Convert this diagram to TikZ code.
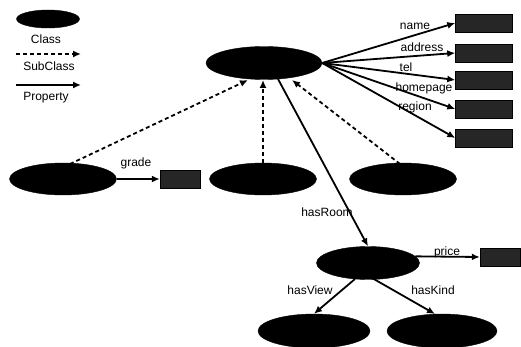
\documentclass[tikz,border=0pt]{standalone}
\usepackage{fontspec}
\setmainfont{Liberation Sans}
\usetikzlibrary{shapes.geometric,arrows.meta}
\begin{document}
\begin{tikzpicture}[x=1pt,y=-1pt,
  cls/.style={ellipse,fill=black,draw=black,inner sep=0pt,minimum width=#1,minimum height=33pt},
  cls/.default=110pt,
  lit/.style={rectangle,fill=black!85,draw=black,inner sep=0pt,minimum width=#1,minimum height=18pt},
  lit/.default=57pt,
  lbl/.style={font=\fontsize{12}{13}\selectfont,inner sep=0pt},
  prop/.style={line width=1.8pt,-{Latex[length=8pt,width=7pt]}},
  sub/.style={line width=1.8pt,dash pattern=on 4pt off 3pt,-{Latex[length=8pt,width=7pt]}}
]
\useasboundingbox[fill=white] (0,0) rectangle (521,347);
% legend
\node[cls=63pt,minimum height=18pt] (lc) at (48,19) {};
\node[lbl] (lclass) at (46,39) {Class};
\coordinate (ls1) at (16,54);
\coordinate (ls2) at (81,54);
\draw[sub] (ls1) -- (ls2);
\node[lbl] (lsub) at (49,66) {SubClass};
\coordinate (lp1) at (16,85);
\coordinate (lp2) at (81,85);
\draw[prop] (lp1) -- (lp2);
\node[lbl] (lprop) at (46,98) {Property};
% classes
\node[cls=116pt] (top) at (264,63) {};
\node[cls=107pt,minimum height=32pt] (left) at (63,179) {};
\node[cls=107pt,minimum height=32pt] (mid) at (263,179) {};
\node[cls=107pt,minimum height=32pt] (right) at (403,179) {};
\node[cls=103pt] (room) at (368,263) {};
\node[cls=112pt,minimum height=34pt] (view) at (314,331) {};
\node[cls=110pt,minimum height=34pt] (kind) at (442,331) {};
% literals
\node[lit] (bname) at (484,23) {};
\node[lit] (baddr) at (484,53) {};
\node[lit] (btel) at (484,80) {};
\node[lit] (bhome) at (484,109) {};
\node[lit] (bregion) at (484,138) {};
\node[lit=40pt] (bgrade) at (180,179) {};
\node[lit=40pt] (bprice) at (500,257) {};
% property arrows
\draw[prop] (top.east) -- (bname.west);
\draw[prop] (top.east) -- (baddr.west);
\draw[prop] (top.east) -- (btel.west);
\draw[prop] (top.east) -- (bhome.west);
\draw[prop] (top.east) -- (bregion.west);
\node[lbl] (tname) at (415,26) {name};
\node[lbl] (taddr) at (422,47) {address};
\node[lbl] (ttel) at (406,67) {tel};
\node[lbl] (thome) at (424,88) {homepage};
\node[lbl] (tregion) at (415,107) {region};
\draw[prop] (left.east) -- (bgrade.west);
\node[lbl] (tgrade) at (136,163) {grade};
\coordinate (hr1) at (278,79);
\draw[prop] (hr1) -- (room.north);
\node[lbl] (troom) at (327,212) {hasRoom};
\draw[prop] (room.8) -- (bprice.west);
\node[lbl] (tprice) at (447,252) {price};
\coordinate (rv) at (355,279);
\coordinate (rk) at (372,278);
\coordinate (kt) at (435,314);
\draw[prop] (rv) -- (view.north);
\draw[prop] (rk) -- (kt);
\node[lbl] (tview) at (310,290) {hasView};
\node[lbl] (tkind) at (433,290) {hasKind};
% subclass arrows
\coordinate (lt) at (70,164);
\coordinate (ta) at (248,80);
\coordinate (tb) at (263,80);
\coordinate (tc) at (292,80);
\coordinate (rt) at (400,164);
\draw[sub] (lt) -- (ta);
\draw[sub] (mid.north) -- (tb);
\draw[sub] (rt) -- (tc);
\end{tikzpicture}
\end{document}
